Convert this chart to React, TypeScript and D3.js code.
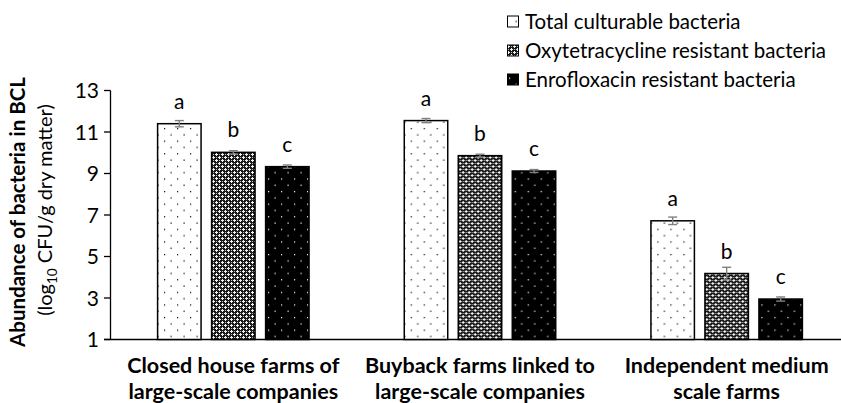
import React from 'react';
import * as d3 from 'd3';

const categories = [
  ['Closed house farms of', 'large-scale companies'],
  ['Buyback farms linked to', 'large-scale companies'],
  ['Independent medium', 'scale farms'],
];
const seriesNames = [
  'Total culturable bacteria',
  'Oxytetracycline resistant bacteria',
  'Enrofloxacin resistant bacteria',
];
const totalValues = [11.4, 11.55, 6.72];
const oxyValues = [10.02, 9.86, 4.18];
const enroValues = [9.33, 9.12, 2.95];
const totalErrors = [0.15, 0.1, 0.18];
const oxyErrors = [0.08, 0.07, 0.3];
const enroErrors = [0.08, 0.07, 0.1];
const letters = ['a', 'b', 'c'];
const yTicks = [1, 3, 5, 7, 9, 11, 13];

const W = 841;
const H = 403;
const FONT = 'Lato, "Open Sans", sans-serif';

const App: React.FC = () => {
  const values = [totalValues, oxyValues, enroValues];
  const errors = [totalErrors, oxyErrors, enroErrors];
  const fills = ['url(#dotsWhite)', 'url(#grid)', 'url(#dotsBlack)'];

  const y = d3.scaleLinear().domain([1, 13]).range([339.5, 90.5]);
  const x0 = d3.scaleBand<number>().domain([0, 1, 2]).range([110, 850]);
  const groupW = 162;
  const x1 = d3.scaleBand<number>().domain([0, 1, 2])
    .range([(x0.bandwidth() - groupW) / 2, (x0.bandwidth() + groupW) / 2])
    .paddingInner(0.195).paddingOuter(0.0975);

  return (
    <svg width={W} height={H} style={{ position: 'absolute', left: 0, top: 0, background: '#fff' }} fontFamily={FONT}>
      <defs>
        <pattern id="dotsWhite" width={13} height={12.6} patternUnits="userSpaceOnUse">
          <rect width={13} height={12.6} fill="#fff" />
          <rect x={2} y={2} width={1.2} height={1.2} fill="#000" />
          <rect x={8.5} y={8.3} width={1.2} height={1.2} fill="#000" />
        </pattern>
        <pattern id="dotsBlack" width={13} height={12.6} patternUnits="userSpaceOnUse">
          <rect width={13} height={12.6} fill="#000" />
          <rect x={2} y={2} width={1.2} height={1.2} fill="#fff" />
          <rect x={8.5} y={8.3} width={1.2} height={1.2} fill="#fff" />
        </pattern>
        <pattern id="grid" width={6} height={6} patternUnits="userSpaceOnUse">
          <rect width={6} height={6} fill="#1a1a1a" />
          <rect x={0} y={1} width={3} height={1} fill="#f2f2f2" />
          <rect x={1} y={0} width={1} height={3} fill="#f2f2f2" />
          <rect x={3} y={4} width={3} height={1} fill="#f2f2f2" />
          <rect x={4} y={3} width={1} height={3} fill="#f2f2f2" />
          <rect x={4} y={1} width={1} height={1} fill="#bbb" />
          <rect x={1} y={4} width={1} height={1} fill="#bbb" />
        </pattern>
      </defs>

      {/* y axis */}
      <line x1={110.5} x2={110.5} y1={y(13)} y2={y(1)} stroke="#000" strokeWidth={1.3} />
      {yTicks.map(t => (
        <g key={t}>
          <line x1={104} x2={110.5} y1={y(t)} y2={y(t)} stroke="#000" strokeWidth={1.3} />
          <text x={99} y={y(t)} dy="0.36em" textAnchor="end" fontSize={21}>{t}</text>
        </g>
      ))}
      {/* x axis */}
      <line x1={104} x2={W} y1={y(1)} y2={y(1)} stroke="#000" strokeWidth={1.3} />

      {/* y title */}
      <text transform="translate(25,212) rotate(-90)" textAnchor="middle" fontSize={20.5} fontWeight="bold">
        Abundance of bacteria in BCL
      </text>
      <text transform="translate(52,210) rotate(-90)" textAnchor="middle" fontSize={20}>
        (log<tspan fontSize={13.5} dy={4.5}>10</tspan><tspan dy={-4.5}> CFU/g dry matter)</tspan>
      </text>

      {/* bars */}
      {categories.map((cat, i) => (
        <g key={i} transform={`translate(${x0(i)},0)`}>
          {values.map((vals, s) => {
            const bx = x1(s)!;
            const bw = x1.bandwidth();
            const cx = bx + bw / 2;
            const top = y(vals[i]);
            const eTop = y(vals[i] + errors[s][i]);
            const eBot = y(vals[i] - errors[s][i]);
            return (
              <g key={s}>
                <rect x={bx} y={top} width={bw} height={y(1) - top} fill={fills[s]} stroke="#000" strokeWidth={1.5} />
                <g stroke="#808080" strokeWidth={1.4}>
                  <line x1={cx} x2={cx} y1={eTop} y2={eBot} />
                  <line x1={cx - 4.5} x2={cx + 4.5} y1={eTop} y2={eTop} />
                  <line x1={cx - 4.5} x2={cx + 4.5} y1={eBot} y2={eBot} />
                </g>
                <text x={cx} y={top - 15} textAnchor="middle" fontSize={21}>{letters[s]}</text>
              </g>
            );
          })}
          {cat.map((line, k) => (
            <text key={k} x={x0.bandwidth() / 2} y={373 + k * 25.5} textAnchor="middle" fontSize={21.5} fontWeight="bold">
              {line}
            </text>
          ))}
        </g>
      ))}

      {/* legend */}
      {seriesNames.map((name, s) => {
        const ly = 22 + s * 29;
        return (
          <g key={name}>
            <rect x={507.5} y={ly - 6} width={11} height={11} fill={fills[s]} stroke="#000" strokeWidth={1} />
            <text x={525} y={ly} dy="0.36em" fontSize={20.5}>{name}</text>
          </g>
        );
      })}
    </svg>
  );
};

export default App;
